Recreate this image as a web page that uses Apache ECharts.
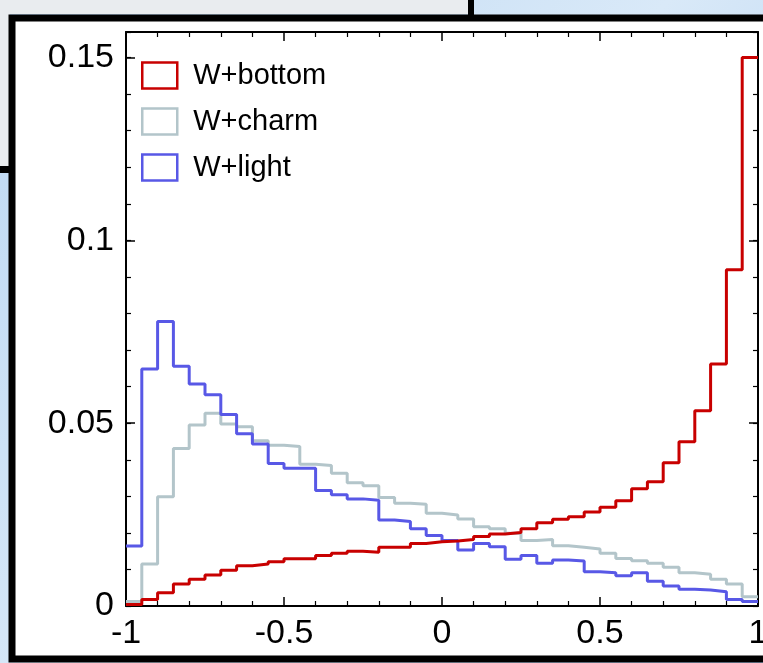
<!DOCTYPE html>
<html>
<head>
<meta charset="utf-8">
<script src="https://cdn.jsdelivr.net/npm/echarts@6/dist/echarts.min.js"></script>
<style>
  html, body { margin: 0; padding: 0; background: #fff; overflow: hidden; }
  #chart { width: 763px; height: 663px; }
</style>
</head>
<body>
<div id="chart"></div>
<script>
// Bin edges of the histograms (40 bins of width 0.05 from -1 to 1)
const binEdges = [
  -1.00, -0.95, -0.90, -0.85, -0.80, -0.75, -0.70, -0.65, -0.60, -0.55,
  -0.50, -0.45, -0.40, -0.35, -0.30, -0.25, -0.20, -0.15, -0.10, -0.05,
   0.00,  0.05,  0.10,  0.15,  0.20,  0.25,  0.30,  0.35,  0.40,  0.45,
   0.50,  0.55,  0.60,  0.65,  0.70,  0.75,  0.80,  0.85,  0.90,  0.95,
   1.00
];

// Normalised bin contents, one value per bin
const wBottom = [
  0.0004, 0.0018, 0.0036, 0.0060, 0.0073, 0.0085, 0.0098, 0.0110, 0.0115, 0.0121,
  0.0129, 0.0129, 0.0138, 0.0144, 0.0150, 0.0147, 0.0161, 0.0161, 0.0171, 0.0176,
  0.0178, 0.0182, 0.0190, 0.0197, 0.0201, 0.0211, 0.0228, 0.0237, 0.0244, 0.0257,
  0.0270, 0.0288, 0.0321, 0.0340, 0.0392, 0.0449, 0.0534, 0.0662, 0.0920, 0.1500
];
const wCharm = [
  0.0012, 0.0115, 0.0299, 0.0431, 0.0495, 0.0527, 0.0498, 0.0490, 0.0452, 0.0440,
  0.0436, 0.0388, 0.0384, 0.0363, 0.0337, 0.0329, 0.0297, 0.0281, 0.0278, 0.0254,
  0.0249, 0.0238, 0.0217, 0.0211, 0.0199, 0.0179, 0.0182, 0.0165, 0.0161, 0.0156,
  0.0144, 0.0130, 0.0124, 0.0117, 0.0106, 0.0091, 0.0087, 0.0073, 0.0060, 0.0025
];
const wLight = [
  0.0164, 0.0648, 0.0778, 0.0656, 0.0607, 0.0578, 0.0524, 0.0471, 0.0443, 0.0390,
  0.0377, 0.0377, 0.0316, 0.0304, 0.0293, 0.0289, 0.0235, 0.0231, 0.0211, 0.0193,
  0.0179, 0.0153, 0.0171, 0.0162, 0.0128, 0.0138, 0.0117, 0.0126, 0.0123, 0.0094,
  0.0091, 0.0083, 0.0091, 0.0068, 0.0055, 0.0046, 0.0044, 0.0039, 0.0018, 0.0012
];

const seriesNames = ['W+bottom', 'W+charm', 'W+light'];
const seriesColors = ['#c80000', '#b3c5ca', '#5858e6'];

// Turn bin contents into step-line points: one point per left edge plus the closing right edge
function stepPoints(values) {
  const pts = values.map((v, i) => [binEdges[i], v]);
  pts.push([binEdges[binEdges.length - 1], values[values.length - 1]]);
  return pts;
}

const FONT = 'Liberation Sans, Arial, Helvetica, sans-serif';
const frameLine = { show: true, onZero: false, lineStyle: { color: '#000', width: 2 } };

function xAxisDef(position, showLabels) {
  return {
    type: 'value', position: position, min: -1, max: 1, interval: 0.5,
    axisLine: frameLine,
    axisTick: { show: true, inside: true, length: 9, lineStyle: { color: '#000', width: 1.5 } },
    minorTick: { show: true, splitNumber: 5, length: 5, lineStyle: { color: '#000', width: 1.2 } },
    splitLine: { show: false }, minorSplitLine: { show: false },
    axisLabel: { show: showLabels, color: '#000', fontSize: 34, fontFamily: FONT, margin: 11 }
  };
}
function yMajorDef(position, showLabels) {
  return {
    type: 'value', position: position, min: 0, max: 0.157, interval: 0.05,
    axisLine: frameLine,
    axisTick: { show: true, inside: true, length: 9, lineStyle: { color: '#000', width: 1.5 } },
    splitLine: { show: false },
    axisLabel: {
      show: showLabels, color: '#000', fontSize: 34, fontFamily: FONT, margin: 12,
      formatter: v => (Math.abs(v / 0.05 - Math.round(v / 0.05)) < 1e-6 ? String(+v.toFixed(2)) : '')
    }
  };
}
function yMinorDef(position) {
  return {
    type: 'value', position: position, min: 0, max: 0.157, interval: 0.01,
    axisLine: { show: false, onZero: false },
    axisTick: { show: true, inside: true, length: 5, lineStyle: { color: '#000', width: 1.2 } },
    splitLine: { show: false },
    axisLabel: { show: false }
  };
}

const chart = echarts.init(document.getElementById('chart'), null, { renderer: 'canvas' });

const series = [wBottom, wCharm, wLight].map((vals, i) => ({
  name: seriesNames[i],
  type: 'line',
  step: 'end',
  xAxisIndex: 0,
  yAxisIndex: 0,
  data: stepPoints(vals),
  showSymbol: false,
  symbol: 'none',
  silent: true,
  animation: false,
  z: [4, 2, 3][i],
  lineStyle: { color: seriesColors[i], width: 3 },
  itemStyle: { color: seriesColors[i] }
}));

chart.setOption({
  animation: false,
  backgroundColor: 'transparent',
  graphic: {
    elements: [
      // sky-blue backdrop
      { type: 'rect', z: -10, silent: true, shape: { x: 0, y: 0, width: 763, height: 663 },
        style: { fill: new echarts.graphic.LinearGradient(0, 0, 1, 1, [
          { offset: 0, color: '#bcd8f3' }, { offset: 0.5, color: '#d9e9f8' }, { offset: 1, color: '#a9cbef' }]) } },
      // pale strip along the upper left
      { type: 'rect', z: -9, silent: true, shape: { x: 0, y: 0, width: 472, height: 14 },
        style: { fill: '#e9ecef' } },
      { type: 'rect', z: -9, silent: true, shape: { x: 0, y: 0, width: 10, height: 168 },
        style: { fill: '#e9ecef' } },
      // white panel with a heavy black border
      { type: 'rect', z: -8, silent: true, shape: { x: 12, y: 18, width: 760, height: 641 },
        style: { fill: '#fff', stroke: '#000', lineWidth: 7 } },
      // black joins of the backdrop frames
      { type: 'rect', z: -7, silent: true, shape: { x: 468, y: 0, width: 6, height: 18 },
        style: { fill: '#000' } },
      { type: 'rect', z: -7, silent: true, shape: { x: 0, y: 166, width: 12, height: 7 },
        style: { fill: '#000' } }
    ]
  },
  grid: { left: 126, right: 5, top: 32, bottom: 57, containLabel: false, outerBoundsMode: 'none' },
  xAxis: [xAxisDef('bottom', true), xAxisDef('top', false)],
  yAxis: [yMajorDef('left', true), yMajorDef('right', false), yMinorDef('left'), yMinorDef('right')],
  legend: {
    show: true,
    orient: 'vertical',
    left: 141, top: 61,
    padding: 0,
    itemWidth: 35, itemHeight: 26, itemGap: 17,
    selectedMode: false,
    textStyle: { color: '#000', fontSize: 29, fontFamily: FONT, lineHeight: 26, padding: [0, 0, 0, 11] },
    data: seriesNames.map((n, i) => ({
      name: n, icon: 'rect',
      itemStyle: { color: '#fff', borderColor: seriesColors[i], borderWidth: 2.5 },
      lineStyle: { width: 0 }
    }))
  },
  series: series
});
</script>
</body>
</html>
